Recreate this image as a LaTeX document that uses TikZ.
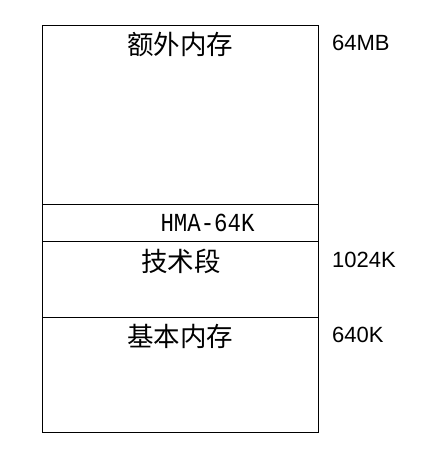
\documentclass[tikz,border=0pt]{standalone}
\usepackage{fontspec}
\setmainfont{Liberation Sans}
\newfontfamily\cjk{Noto Sans CJK SC}
\newfontfamily\hmafont[FakeStretch=0.86]{Liberation Mono}
\tikzset{
    region/.style={font=\cjk\fontsize{26.5}{26.5}\selectfont, inner sep=0pt},
    addr/.style={font=\fontsize{22}{22}\selectfont, anchor=west, inner sep=0pt}}

\begin{document}
\begin{tikzpicture}[x=1pt, y=1pt]
    \useasboundingbox (0,0) rectangle (427,475);

    \coordinate (TL) at (42.5,449.5);
    \coordinate (BR) at (318.5,43);
    \coordinate (L1) at (42.5,270.5);
    \coordinate (R1) at (318.5,270.5);
    \coordinate (L2) at (42.5,233.7);
    \coordinate (R2) at (318.5,233.7);
    \coordinate (L3) at (42.5,157.5);
    \coordinate (R3) at (318.5,157.5);

    \draw[line width=0.9pt] (TL) rectangle (BR);
    \draw[line width=0.9pt] (L1) -- (R1);
    \draw[line width=0.9pt] (L2) -- (R2);
    \draw[line width=0.9pt] (L3) -- (R3);

    \node[region] (ext) at (180.5,431) {额外内存};
    \node[inner sep=0pt, font=\hmafont\fontsize{26}{26}\selectfont] (hma) at (207.5,252) {HMA-64K};
    \node[region] (tech) at (181,214) {技术段};
    \node[region] (base) at (180.5,139) {基本内存};

    \node[addr] (a64m) at (332,432) {64MB};
    \node[addr] (a1024) at (332,215) {1024K};
    \node[addr] (a640) at (332,140) {640K};

\end{tikzpicture}
\end{document}
